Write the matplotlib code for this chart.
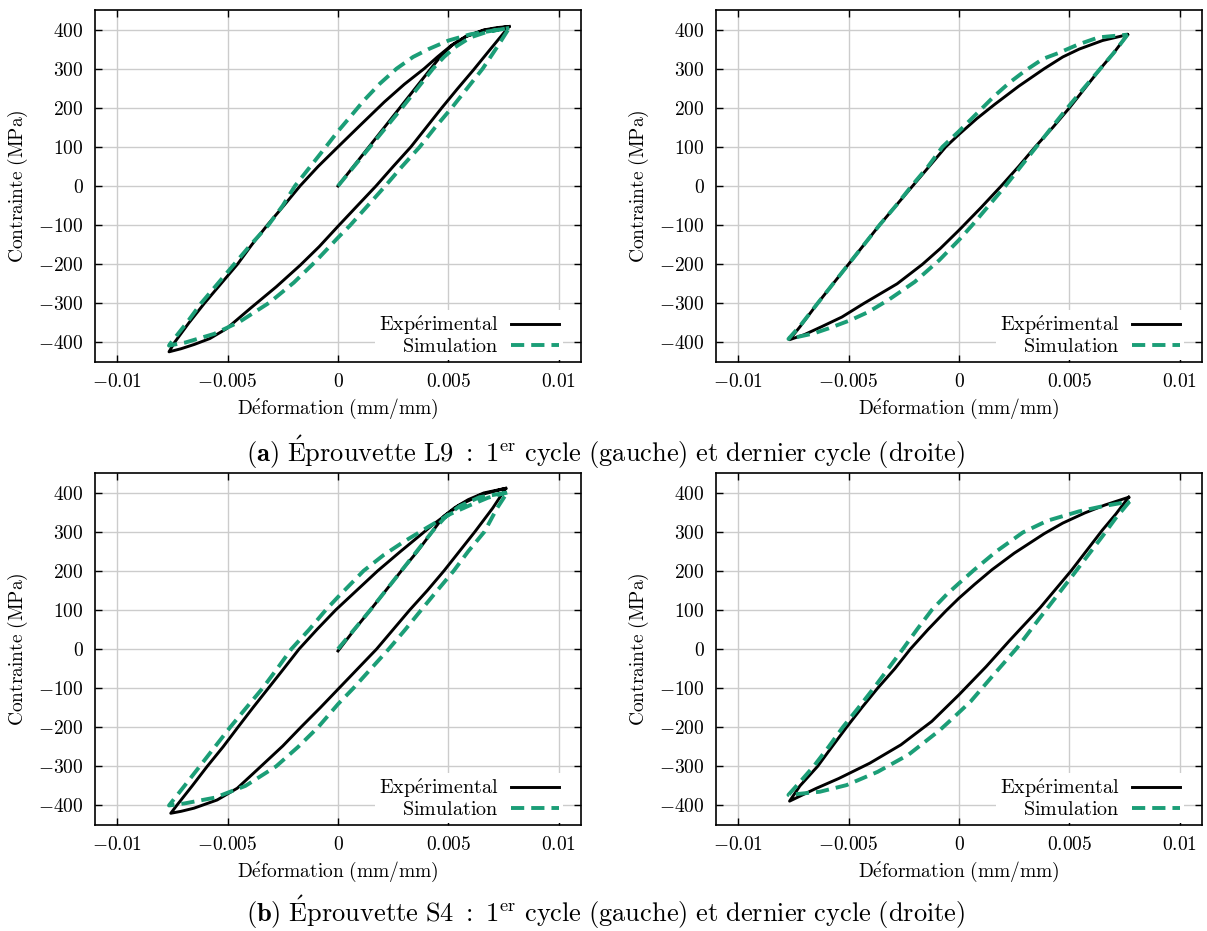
import matplotlib
matplotlib.use("Agg")
import matplotlib.pyplot as plt
from matplotlib.ticker import FuncFormatter, MultipleLocator

plt.rcParams['mathtext.fontset'] = 'cm'
plt.rcParams['font.family'] = 'serif'

GREEN = "#1b9e77"

# strains in 1e-3 mm/mm, stresses in MPa
# L9 - 1er cycle
l9_first_exp_x = [0.0, 1.4, 2.8, 3.5, 4.2, 4.7, 5.2, 5.8, 6.6, 7.2, 7.75,
                  6.9, 6.15, 5.4, 4.7, 4.0, 3.3, 2.5, 1.72, 0.85, 0.0, -0.85, -1.7, -2.8,
                  -3.95, -5.05, -5.8, -6.5, -7.1, -7.65,
                  -7.4, -6.75, -6.05, -5.3, -4.55, -3.9, -3.2, -2.45, -1.72, -0.9, 0.0,
                  1.0, 2.1, 3.0, 3.9, 4.5, 5.1, 5.8, 6.6, 7.75]
l9_first_exp_y = [0, 100, 200, 250, 300, 335, 362, 383, 399, 405, 408,
                  350, 298, 248, 200, 150, 100, 50, 0, -52, -103, -155, -202, -258,
                  -312, -365, -390, -405, -416, -424,
                  -400, -350, -300, -250, -200, -150, -100, -50, 0, 50, 100,
                  155, 215, 260, 300, 330, 358, 382, 398, 408]
l9_first_sim_x = [0.0, 1.45, 2.9, 3.6, 4.3, 4.8, 5.3, 6.0, 6.8, 7.75,
                  7.2, 6.55, 5.85, 5.15, 4.4, 3.7, 2.9, 2.14, 1.35, 0.56, 0.0, -1.0, -2.0,
                  -3.1, -4.45, -5.6, -6.9, -7.65,
                  -7.55, -6.85, -6.2, -5.45, -4.7, -3.95, -3.15, -2.5, -1.95, -1.25, -0.55,
                  0.0, 0.6, 1.16, 1.9, 2.65, 3.4, 4.1, 5.0, 6.0, 7.75]
l9_first_sim_y = [0, 100, 200, 250, 300, 330, 355, 380, 395, 404,
                  355, 300, 250, 200, 150, 100, 50, 0, -50, -100, -132, -192, -247,
                  -298, -347, -378, -400, -408,
                  -400, -350, -300, -250, -200, -150, -100, -50, 0, 50, 100,
                  140, 180, 218, 262, 300, 330, 350, 372, 388, 404]

# L9 - dernier cycle
l9_last_exp_x = [7.63, 7.0, 6.4, 5.7, 5.0, 4.25, 3.45, 2.7, 1.91, 1.0, 0.0, -0.85, -1.65,
                 -2.8, -4.3, -5.3, -6.23, -7.0, -7.67,
                 -7.2, -6.4, -5.7, -5.0, -4.3, -3.6, -2.85, -2.1, -1.35, -0.6, 0.0, 0.8,
                 1.6, 2.7, 3.86, 4.7, 5.44, 6.5, 7.63]
l9_last_exp_y = [387, 340, 300, 250, 200, 150, 100, 50, 0, -55, -113, -160, -200,
                 -250, -300, -335, -360, -380, -393,
                 -360, -300, -250, -200, -150, -100, -50, 0, 50, 100, 132, 172,
                 208, 255, 300, 330, 350, 372, 387]
l9_last_sim_x = [7.63, 7.0, 6.4, 5.65, 4.91, 4.2, 3.5, 2.8, 2.1, 1.35, 0.6, 0.0, -0.9,
                 -2.0, -3.16, -4.1, -4.91, -5.9, -6.58, -7.72,
                 -7.2, -6.4, -5.7, -5.0, -4.3, -3.6, -2.85, -2.15, -1.4, -0.75, 0.0,
                 0.8, 1.6, 2.3, 3.0, 3.8, 4.5, 5.4, 6.32, 7.63]
l9_last_sim_y = [387, 340, 300, 250, 200, 150, 100, 50, 0, -50, -100, -138, -190,
                 -245, -290, -322, -343, -364, -377, -391,
                 -358, -300, -250, -200, -150, -100, -50, 0, 50, 100, 140,
                 185, 230, 265, 295, 325, 340, 362, 380, 387]

# S4 - 1er cycle
s4_first_exp_x = [0.0, 0.75, 1.47, 2.17, 2.87, 3.6, 4.32, 4.8, 5.3, 5.9, 6.6, 7.6,
                  7.0, 6.2, 5.5, 4.8, 4.05, 3.25, 2.5, 1.75, 0.9, 0.05, -0.8, -1.68, -2.5,
                  -3.66, -4.56, -5.47, -6.52, -7.1, -7.57,
                  -7.3, -6.6, -5.92, -5.2, -4.53, -3.85, -3.15, -2.45, -1.76, -0.95, -0.1,
                  0.85, 1.8, 2.8, 3.7, 4.3, 4.77, 5.5, 6.5, 7.6]
s4_first_exp_y = [-5, 50, 100, 150, 200, 250, 304, 340, 362, 382, 399, 411,
                  360, 300, 250, 200, 150, 100, 50, 0, -50, -100, -150, -200, -248,
                  -309, -356, -386, -407, -415, -420,
                  -400, -350, -300, -250, -200, -150, -100, -50, 0, 50, 100,
                  150, 200, 248, 290, 318, 338, 368, 395, 411]
s4_first_sim_x = [0.0, 1.47, 2.87, 4.32, 4.9, 5.5, 6.4, 7.66,
                  7.2, 6.63, 5.9, 5.24, 4.5, 3.77, 3.05, 2.3, 1.5, 0.7, 0.0, -0.9, -1.8,
                  -2.8, -4.19, -5.57, -6.96, -7.65,
                  -6.95, -6.26, -5.57, -4.88, -4.15, -3.41, -2.75, -2.11, -1.3, -0.55, 0.0,
                  1.16, 2.06, 2.97, 4.02, 5.08, 5.99, 6.8, 7.66]
s4_first_sim_y = [0, 100, 200, 304, 340, 365, 388, 400,
                  360, 300, 250, 200, 150, 100, 50, 0, -50, -100, -141, -200, -250,
                  -300, -350, -380, -395, -400,
                  -350, -300, -250, -200, -150, -100, -50, 0, 50, 100, 133,
                  200, 240, 274, 310, 345, 368, 387, 400]

# S4 - dernier cycle
s4_last_exp_x = [7.68, 7.1, 6.49, 5.09, 3.68, 2.28, 1.23, 0.0, -1.23, -2.63, -4.04,
                 -5.44, -6.49, -7.67,
                 -7.2, -6.4, -5.75, -5.09, -4.4, -3.68, -2.9, -2.2, -1.4, -0.6, 0.0, 0.7,
                 1.5, 2.5, 3.86, 4.7, 5.7, 6.6, 7.68]
s4_last_exp_y = [388, 345, 304, 201, 106, 21, -45, -117, -185, -245, -292,
                 -331, -357, -389,
                 -350, -300, -250, -200, -150, -100, -50, 0, 50, 97, 130, 165,
                 203, 245, 295, 322, 348, 368, 388]
s4_last_sim_x = [7.72, 7.1, 6.49, 5.09, 3.68, 2.63, 1.58, 0.53, -0.3, -0.88, -2.28,
                 -3.68, -5.09, -6.3, -7.72,
                 -7.2, -6.58, -5.9, -5.26, -4.55, -3.86, -3.2, -2.54, -1.9, -1.23, -0.55, 0.0,
                 0.7, 1.7, 2.89, 4.0, 5.44, 6.5, 7.72]
s4_last_sim_y = [377, 335, 288, 184, 81, 3, -65, -134, -178, -208, -270,
                 -314, -348, -365, -373,
                 -340, -300, -250, -200, -150, -100, -50, 0, 50, 100, 140, 168,
                 203, 250, 298, 328, 352, 365, 377]


def tex(s):
    return r'$\mathrm{' + s.replace(' ', r'\ ') + '}$'


def tick_fmt(v, pos):
    if abs(v) < 1e-12:
        v = 0
    return '$%g$' % v


def draw_panel(ax, ex, ey, sx, sy):
    ex = [v / 1000 for v in ex]
    sx = [v / 1000 for v in sx]
    ax.plot(ex, ey, color='black', lw=2.1, label=tex(r'Exp\acute{e}rimental'), zorder=3,
            solid_joinstyle='round')
    ax.plot(sx, sy, color=GREEN, lw=2.8, dashes=(3.4, 1.8), label=tex('Simulation'), zorder=4)
    ax.set_xlim(-0.011, 0.011)
    ax.set_ylim(-450, 450)
    ax.xaxis.set_major_locator(MultipleLocator(0.005))
    ax.yaxis.set_major_locator(MultipleLocator(100))
    ax.xaxis.set_major_formatter(FuncFormatter(tick_fmt))
    ax.yaxis.set_major_formatter(FuncFormatter(tick_fmt))
    ax.grid(True, color='#cccccc', lw=1.0)
    ax.set_axisbelow(True)
    ax.tick_params(direction='in', top=True, right=True, length=5, width=1,
                   labelsize=14, pad=8)
    for sp in ax.spines.values():
        sp.set_linewidth(1.2)
    ax.set_xlabel(tex(r'D\acute{e}formation (mm/mm)'), fontsize=14, labelpad=4)
    ax.set_ylabel(tex('Contrainte (MPa)'), fontsize=14, labelpad=6)
    leg = ax.legend(loc='lower right', bbox_to_anchor=(0.968, 0.0), fontsize=14.5,
                    markerfirst=False, frameon=True, fancybox=False, framealpha=1,
                    edgecolor='white', handlelength=2.4, labelspacing=0.0,
                    borderpad=0.2, borderaxespad=0.1, handletextpad=0.6)
    leg.get_frame().set_linewidth(0)


fig = plt.figure(figsize=(12.07, 9.31), dpi=100)
w = 486 / 1207
h = 352 / 931
ax1 = fig.add_axes([95 / 1207, 1 - 362 / 931, w, h])
ax2 = fig.add_axes([716 / 1207, 1 - 362 / 931, w, h])
ax3 = fig.add_axes([95 / 1207, 1 - 825 / 931, w, h])
ax4 = fig.add_axes([716 / 1207, 1 - 825 / 931, w, h])

draw_panel(ax1, l9_first_exp_x, l9_first_exp_y, l9_first_sim_x, l9_first_sim_y)
draw_panel(ax2, l9_last_exp_x, l9_last_exp_y, l9_last_sim_x, l9_last_sim_y)
draw_panel(ax3, s4_first_exp_x, s4_first_exp_y, s4_first_sim_x, s4_first_sim_y)
draw_panel(ax4, s4_last_exp_x, s4_last_exp_y, s4_last_sim_x, s4_last_sim_y)

cap_a = r'$\mathbf{(a)}\ \mathrm{\acute{E}prouvette\ L9\ }:\mathrm{\ 1^{er}\ cycle\ (gauche)\ et\ dernier\ cycle\ (droite)}$'
cap_b = r'$\mathbf{(b)}\ \mathrm{\acute{E}prouvette\ S4\ }:\mathrm{\ 1^{er}\ cycle\ (gauche)\ et\ dernier\ cycle\ (droite)}$'
fig.text(0.502, 1 - 452 / 931, cap_a, ha='center', va='center', fontsize=19)
fig.text(0.502, 1 - 912 / 931, cap_b, ha='center', va='center', fontsize=19)

fig.savefig("out.png", dpi=100)
